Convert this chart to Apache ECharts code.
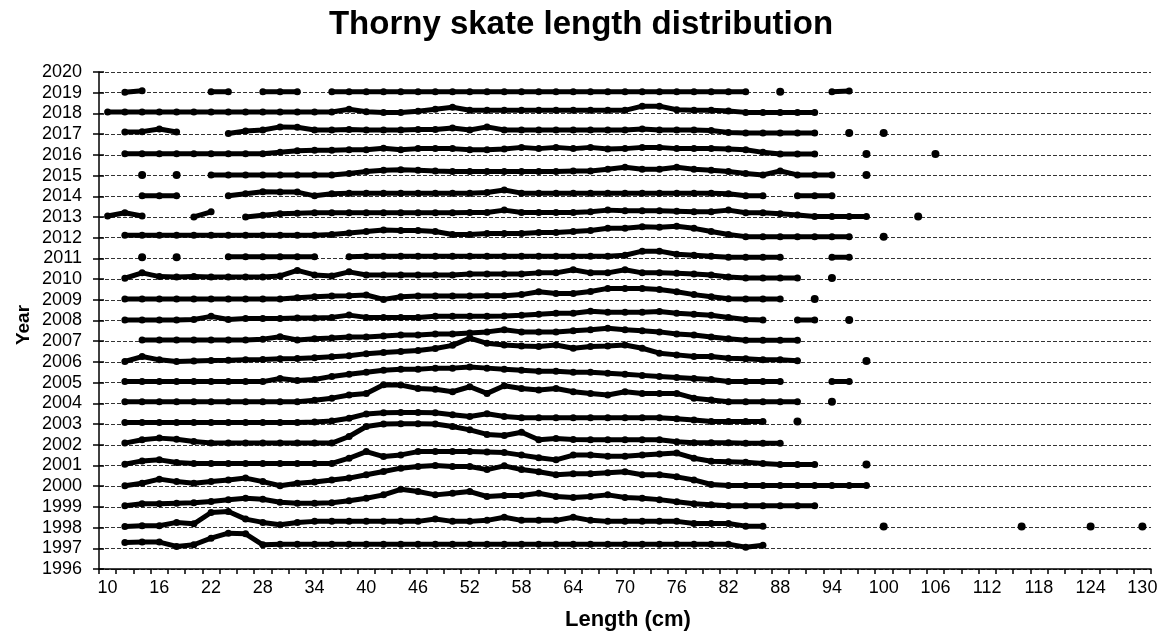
<!DOCTYPE html>
<html>
<head>
<meta charset="utf-8">
<script src="https://cdn.jsdelivr.net/npm/echarts@6/dist/echarts.min.js"></script>
<style>
html,body{margin:0;padding:0;background:#fff;}
#chart{width:1162px;height:640px;}
</style>
</head>
<body>
<div id="chart"></div>
<script>
// Length categories (cm)
const lengths = ['10','12','14','16','18','20','22','24','26','28','30','32','34','36','38','40','42','44','46','48','50','52','54','56','58','60','62','64','66','68','70','72','74','76','78','80','82','84','86','88','90','92','94','96','98','100','102','104','106','108','110','112','114','116','118','120','122','124','126','128','130'];
const yearTicks = [1996,1997,1998,1999,2000,2001,2002,2003,2004,2005,2006,2007,2008,2009,2010,2011,2012,2013,2014,2015,2016,2017,2018,2019,2020];

// Each year: list of runs [startLength, [relative heights every 2 cm]]
const h1997 = [[12,[.28,.3,.3,.09,.17,.49,.73,.7,.17,.2,.2,.2,.2,.2,.2,.2,.2,.2,.2,.2,.2,.2,.2,.2,.2,.2,.2,.2,.2,.2,.2,.2,.2,.2,.2,.2,.05,.15]]];
const h1998 = [[12,[.05,.09,.09,.25,.18,.73,.78,.41,.25,.14,.25,.3,.3,.3,.3,.3,.3,.3,.41,.3,.3,.35,.5,.35,.35,.35,.5,.35,.3,.3,.3,.3,.3,.2,.2,.2,.07,.07]],[100,[.05]],[116,[.05]],[124,[.05]],[130,[.05]]];
const h1999 = [[12,[.05,.15,.15,.18,.2,.26,.34,.42,.37,.22,.18,.18,.2,.3,.42,.58,.85,.74,.58,.66,.74,.5,.55,.55,.66,.5,.45,.5,.58,.45,.42,.35,.25,.15,.1,.05,.05,.05,.05,.05,.05]]];
const h2000 = [[12,[.02,.14,.34,.22,.14,.22,.3,.39,.22,.02,.14,.2,.3,.39,.55,.71,.87,.95,1.0,.95,.95,.8,.98,.8,.7,.55,.6,.6,.65,.7,.55,.55,.45,.3,.08,.03,.03,.03,.03,.03,.03,.03,.03,.03]]];
const h2001 = [[12,[.06,.22,.27,.14,.1,.1,.1,.1,.1,.1,.1,.1,.1,.35,.67,.43,.51,.67,.67,.67,.67,.65,.62,.5,.37,.27,.5,.5,.45,.45,.5,.55,.6,.35,.2,.18,.15,.1,.05,.05,.05]],[98,[.05]]];
const h2002 = [[12,[.08,.24,.32,.27,.16,.08,.08,.08,.08,.08,.08,.08,.08,.4,.88,1.0,1.02,1.02,1.0,.88,.72,.5,.45,.6,.24,.3,.25,.24,.24,.24,.24,.24,.15,.1,.1,.1,.07,.07,.07]]];
const h2003 = [[12,[.07,.07,.07,.07,.07,.07,.07,.07,.07,.07,.07,.1,.15,.28,.49,.55,.56,.56,.55,.45,.36,.5,.36,.3,.3,.3,.3,.3,.3,.3,.3,.3,.25,.2,.12,.12,.12,.12]],[90,[.12]]];
const h2004 = [[12,[.08,.08,.08,.08,.08,.08,.08,.08,.08,.08,.08,.15,.25,.4,.48,.9,.88,.72,.68,.56,.8,.48,.85,.72,.64,.72,.56,.48,.4,.56,.48,.48,.48,.25,.16,.08,.08,.08,.08,.08]],[94,[.08]]];
const h2005 = [[12,[.05,.05,.05,.05,.05,.05,.05,.05,.05,.2,.1,.15,.3,.4,.5,.6,.65,.65,.7,.7,.75,.7,.65,.6,.55,.55,.5,.5,.45,.4,.35,.3,.25,.2,.15,.05,.05,.05,.05]],[94,[.05,.05]]];
const h2006 = [[12,[.02,.26,.1,.02,.05,.07,.08,.1,.12,.15,.17,.2,.25,.3,.4,.45,.5,.55,.65,.8,1.15,.9,.82,.77,.74,.82,.66,.74,.77,.82,.66,.42,.34,.26,.26,.18,.15,.1,.1,.06]],[98,[.05]]];
const h2007 = [[14,[.06,.06,.06,.06,.06,.06,.06,.1,.22,.06,.12,.15,.2,.2,.25,.3,.3,.35,.35,.4,.45,.55,.45,.45,.45,.5,.55,.63,.55,.5,.45,.35,.3,.2,.12,.05,.05,.05,.05]]];
const h2008 = [[12,[.02,.02,.02,.02,.05,.2,.05,.1,.1,.1,.12,.12,.15,.26,.15,.15,.15,.15,.2,.2,.2,.2,.22,.25,.3,.35,.35,.45,.4,.4,.4,.43,.35,.3,.25,.15,.05,.02]],[90,[.02,.02]],[96,[.02]]];
const h2009 = [[12,[.04,.04,.04,.04,.04,.04,.04,.04,.04,.04,.1,.15,.18,.2,.23,.02,.15,.18,.18,.18,.18,.2,.2,.25,.39,.3,.3,.4,.55,.55,.55,.5,.39,.25,.15,.05,.04,.04,.04]],[92,[.04]]];
const h2010 = [[12,[.04,.3,.12,.1,.12,.1,.1,.1,.1,.15,.42,.2,.15,.35,.2,.2,.2,.2,.2,.2,.25,.25,.25,.25,.3,.3,.45,.3,.3,.45,.3,.3,.28,.25,.2,.1,.05,.05,.05,.05]],[94,[.05]]];
const h2011 = [[14,[.05]],[18,[.05]],[24,[.08,.08,.08,.08,.08,.08]],[38,[.08,.1,.1,.1,.1,.1,.1,.1,.1,.1,.1,.1,.1,.1,.1,.1,.15,.35,.35,.2,.15,.1,.05,.05,.05,.05]],[94,[.05,.05]]];
const h2012 = [[12,[.12,.12,.12,.12,.12,.12,.12,.12,.12,.12,.12,.12,.15,.22,.3,.37,.35,.35,.3,.15,.15,.2,.2,.2,.25,.25,.3,.35,.45,.45,.53,.5,.55,.45,.3,.15,.05,.05,.05,.05,.05,.05,.05]],[100,[.05]]];
const h2013 = [[10,[.05,.2,.05]],[20,[0,.25]],[26,[0,.08,.15,.18,.2,.2,.2,.2,.2,.2,.2,.2,.2,.22,.22,.33,.22,.22,.22,.22,.25,.33,.3,.3,.3,.28,.25,.25,.33,.2,.2,.15,.1,.02,.02,.02,.02]],[104,[.02]]];
const h2014 = [[14,[.03,.03,.03]],[24,[.02,.12,.22,.2,.2,.02,.12,.15,.15,.15,.15,.15,.15,.15,.15,.18,.3,.15,.15,.15,.15,.15,.15,.15,.15,.15,.15,.15,.15,.12,.02,.02]],[90,[.02,.02,.02]]];
const h2015 = [[14,[.03]],[18,[.03]],[22,[.03,.03,.03,.03,.03,.03,.03,.03,.1,.2,.26,.28,.25,.22,.2,.2,.2,.2,.2,.2,.2,.22,.22,.3,.4,.3,.3,.4,.3,.25,.2,.1,.03,.22,.03,.03,.03]],[98,[.03]]];
const h2016 = [[12,[.05,.05,.05,.05,.05,.05,.05,.05,.05,.12,.2,.22,.22,.25,.25,.32,.25,.3,.3,.3,.25,.25,.28,.36,.3,.36,.3,.36,.28,.3,.36,.36,.3,.3,.3,.28,.25,.12,.04,.04,.04]],[98,[.04]],[106,[.04]]];
const h2017 = [[12,[.1,.12,.25,.1]],[24,[.03,.15,.2,.35,.33,.2,.2,.22,.2,.2,.2,.22,.22,.3,.2,.35,.2,.2,.2,.2,.2,.2,.2,.2,.25,.2,.2,.2,.18,.08,.06,.06,.06,.06,.06]],[96,[.05]],[100,[.05]]];
const h2018 = [[10,[.07,.07,.07,.07,.07,.07,.07,.07,.07,.07,.07,.07,.07,.07,.2,.08,.05,.05,.1,.2,.3,.15,.15,.15,.15,.15,.15,.15,.15,.15,.15,.35,.35,.18,.15,.15,.12,.05,.05,.05,.05,.05]]];
const h2019 = [[12,[.02,.1]],[22,[.05,.05]],[28,[.05,.05,.05]],[36,[.05,.05,.05,.05,.05,.05,.05,.05,.05,.05,.05,.05,.05,.05,.05,.05,.05,.05,.05,.05,.05,.05,.05,.05,.05]],[88,[.05]],[94,[.05,.08]]];

const yearRuns = [
  [1997,h1997],[1998,h1998],[1999,h1999],[2000,h2000],[2001,h2001],[2002,h2002],
  [2003,h2003],[2004,h2004],[2005,h2005],[2006,h2006],[2007,h2007],[2008,h2008],
  [2009,h2009],[2010,h2010],[2011,h2011],[2012,h2012],[2013,h2013],[2014,h2014],
  [2015,h2015],[2016,h2016],[2017,h2017],[2018,h2018],[2019,h2019]
];

function buildSeries(year, runs){
  const vals = lengths.map(()=>null);
  runs.forEach(([start, hs])=>{
    const i0 = lengths.indexOf(String(start));
    hs.forEach((h,k)=>{ vals[i0+k] = year + h; });
  });
  return vals.map((v,i)=>{
    if (v === null) return '-';
    const isolated = (i===0 || vals[i-1]===null) && (i===vals.length-1 || vals[i+1]===null);
    return isolated ? {value:v, symbolSize:8} : v;
  });
}

const FONT = 'Liberation Sans, Arial, sans-serif';

const series = yearRuns.map(([year, runs])=>({
  name: String(year),
  type: 'line',
  data: buildSeries(year, runs),
  connectNulls: false,
  showSymbol: true,
  showAllSymbol: true,
  symbol: 'circle',
  symbolSize: 7,
  lineStyle: {color:'#000', width:5},
  itemStyle: {color:'#000'},
  emphasis: {disabled:true},
  silent: true,
  z: 3
}));

const chart = echarts.init(document.getElementById('chart'), null, {renderer:'canvas'});
chart.setOption({
  animation: false,
  backgroundColor: '#fff',
  title: {
    text: 'Thorny skate length distribution',
    left: 'center', top: 3,
    textStyle: {fontFamily:FONT, fontSize: 33, fontWeight: 'bold', color:'#000'}
  },
  grid: {left: 99, right: 11, top: 72, bottom: 71, containLabel: false},
  graphic: [
    {type:'text', left: 565, top: 609, silent:true,
     style:{text:'Length (cm)', font:'bold 22px Liberation Sans, Arial, sans-serif', fill:'#000'}},
    {type:'text', x: 24, y: 325, rotation: Math.PI/2, silent:true,
     style:{text:'Year', font:'bold 19px Liberation Sans, Arial, sans-serif', fill:'#000', align:'center', verticalAlign:'middle'}}
  ],
  xAxis: {
    type: 'category',
    data: lengths,
    boundaryGap: true,
    axisLine: {lineStyle:{color:'#000', width:1.5}},
    axisTick: {show:true, interval:0, length:5, lineStyle:{color:'#000', width:1.5}},
    axisLabel: {interval:2, margin:10, fontFamily:FONT, fontSize:18, color:'#000'},
    splitLine: {show:false}
  },
  yAxis: [{
    type: 'value',
    min: 1996, max: 2020, interval: 1,
    axisLine: {show:true, lineStyle:{color:'#000', width:1.5}},
    axisTick: {show:true, length:6, lineStyle:{color:'#000', width:1.5}},
    axisLabel: {margin:17, fontFamily:FONT, fontSize:18, color:'#000', formatter: v => String(v)},
    splitLine: {show:true, lineStyle:{color:'#333', type:[4,2], width:1}}
  },{
    type: 'value',
    min: 1996, max: 2020, interval: 1,
    position: 'left',
    axisLine: {show:false},
    axisTick: {show:true, inside:true, length:5, lineStyle:{color:'#000', width:1.5}},
    axisLabel: {show:false},
    splitLine: {show:false}
  }],
  series: series
});
</script>
</body>
</html>
